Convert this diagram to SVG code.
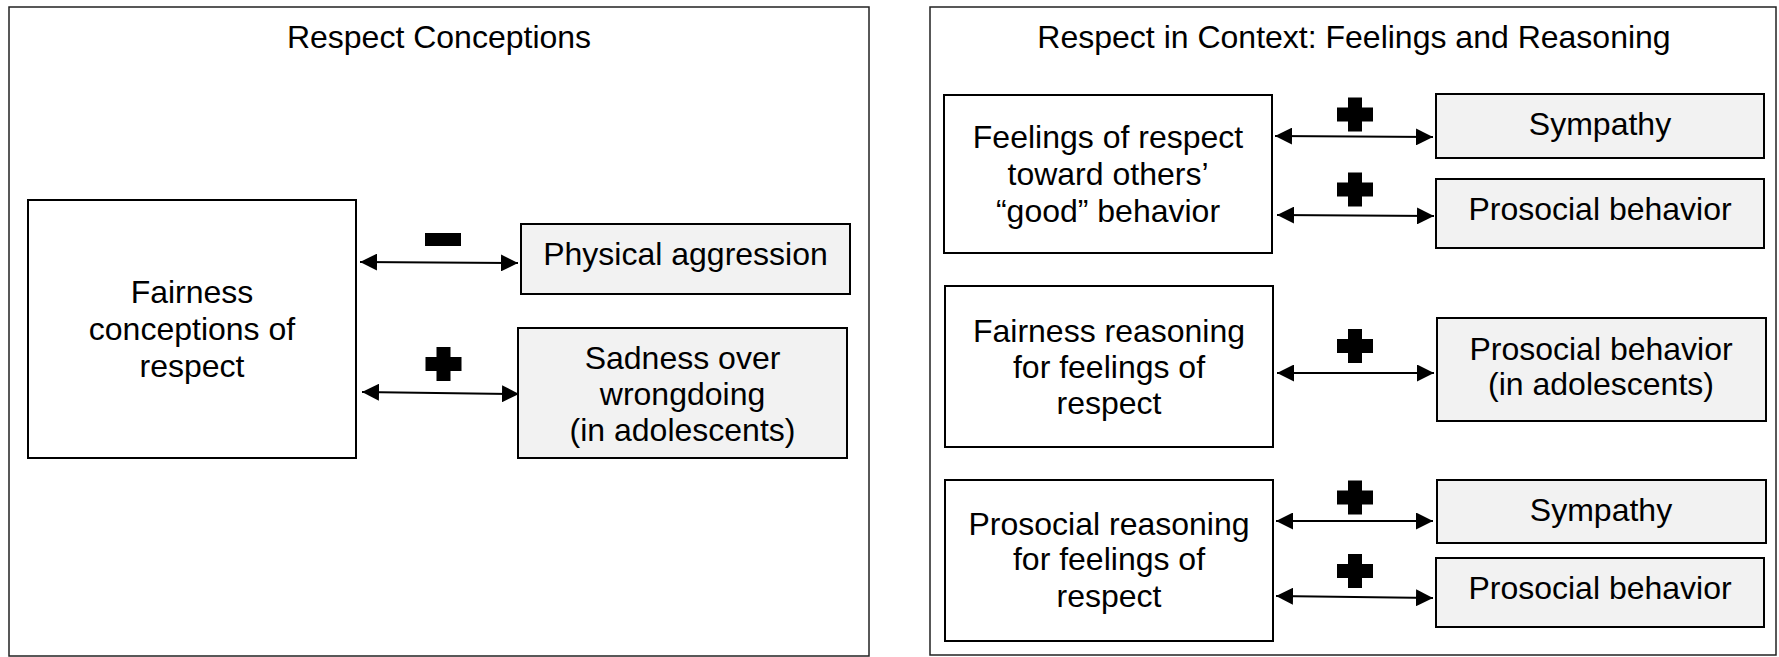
<svg xmlns="http://www.w3.org/2000/svg" width="1779" height="657" viewBox="0 0 1779 657">
<style>
.frame{fill:#fff;stroke:#222;stroke-width:1.5}
.src{fill:#fff;stroke:#000;stroke-width:2}
.tgt{fill:#f2f2f2;stroke:#000;stroke-width:2}
text{font-family:"Liberation Sans",Arial,sans-serif;font-size:32px;fill:#000;text-anchor:middle}
.conn line{stroke:#000;stroke-width:2;marker-start:url(#ah);marker-end:url(#ah)}
</style>
<defs>
<marker id="ah" viewBox="0 0 17 17" refX="17" refY="8.5" markerWidth="17" markerHeight="17" markerUnits="userSpaceOnUse" orient="auto-start-reverse">
<path d="M0,0 L17,8.5 L0,17 Z" fill="#000"/>
</marker>
<path id="plus" d="M-18,-7 H-7 V-17 H7 V-7 H18 V7 H7 V17 H-7 V7 H-18 Z" fill="#000"/>
</defs>
<rect width="1779" height="657" fill="#fff"/>

<g id="panel-left">
<rect class="frame" x="9" y="7" width="860" height="649"/>
<text x="439" y="48">Respect Conceptions</text>
</g>
<g id="panel-right">
<rect class="frame" x="930" y="7" width="846" height="648"/>
<text x="1354" y="48">Respect in Context: Feelings and Reasoning</text>
</g>

<g id="fairness-conceptions">
<rect class="src" x="28" y="200" width="328" height="258"/>
<text x="192" y="303">Fairness</text>
<text x="192" y="340">conceptions of</text>
<text x="192" y="377">respect</text>
</g>
<g id="physical-aggression">
<rect class="tgt" x="521" y="224" width="329" height="70"/>
<text x="685.5" y="265">Physical aggression</text>
</g>
<g id="sadness">
<rect class="tgt" x="518" y="328" width="329" height="130"/>
<text x="682.5" y="369">Sadness over</text>
<text x="682.5" y="405">wrongdoing</text>
<text x="682.5" y="441">(in adolescents)</text>
</g>

<g id="feelings-respect">
<rect class="src" x="944" y="95" width="328" height="158"/>
<text x="1108" y="148">Feelings of respect</text>
<text x="1108" y="185">toward others’</text>
<text x="1108" y="222">“good” behavior</text>
</g>
<g id="sympathy-1">
<rect class="tgt" x="1436" y="94" width="328" height="64"/>
<text x="1600" y="135">Sympathy</text>
</g>
<g id="prosocial-1">
<rect class="tgt" x="1436" y="179" width="328" height="69"/>
<text x="1600" y="220">Prosocial behavior</text>
</g>

<g id="fairness-reasoning">
<rect class="src" x="945" y="286" width="328" height="161"/>
<text x="1109" y="342">Fairness reasoning</text>
<text x="1109" y="378">for feelings of</text>
<text x="1109" y="414">respect</text>
</g>
<g id="prosocial-adolescents">
<rect class="tgt" x="1437" y="318" width="329" height="103"/>
<text x="1601" y="360">Prosocial behavior</text>
<text x="1601" y="395">(in adolescents)</text>
</g>

<g id="prosocial-reasoning">
<rect class="src" x="945" y="480" width="328" height="161"/>
<text x="1109" y="535">Prosocial reasoning</text>
<text x="1109" y="570">for feelings of</text>
<text x="1109" y="607">respect</text>
</g>
<g id="sympathy-2">
<rect class="tgt" x="1437" y="480" width="329" height="63"/>
<text x="1601" y="521">Sympathy</text>
</g>
<g id="prosocial-2">
<rect class="tgt" x="1436" y="558" width="328" height="69"/>
<text x="1600" y="599">Prosocial behavior</text>
</g>

<g id="connectors" class="conn">
<line x1="360" y1="262" x2="518" y2="263"/>
<line x1="362" y1="392" x2="519" y2="394"/>
<line x1="1275" y1="136" x2="1433" y2="137"/>
<line x1="1277" y1="215" x2="1434" y2="216"/>
<line x1="1277" y1="373" x2="1434" y2="373"/>
<line x1="1276" y1="521" x2="1433" y2="521"/>
<line x1="1276" y1="596" x2="1433" y2="598"/>
<rect x="425" y="233" width="36" height="13" fill="#000"/>
<use href="#plus" x="443.5" y="364"/>
<use href="#plus" x="1355" y="114.5"/>
<use href="#plus" x="1355" y="189.5"/>
<use href="#plus" x="1355" y="346"/>
<use href="#plus" x="1355" y="497.5"/>
<use href="#plus" x="1355" y="571"/>
</g>
</svg>
